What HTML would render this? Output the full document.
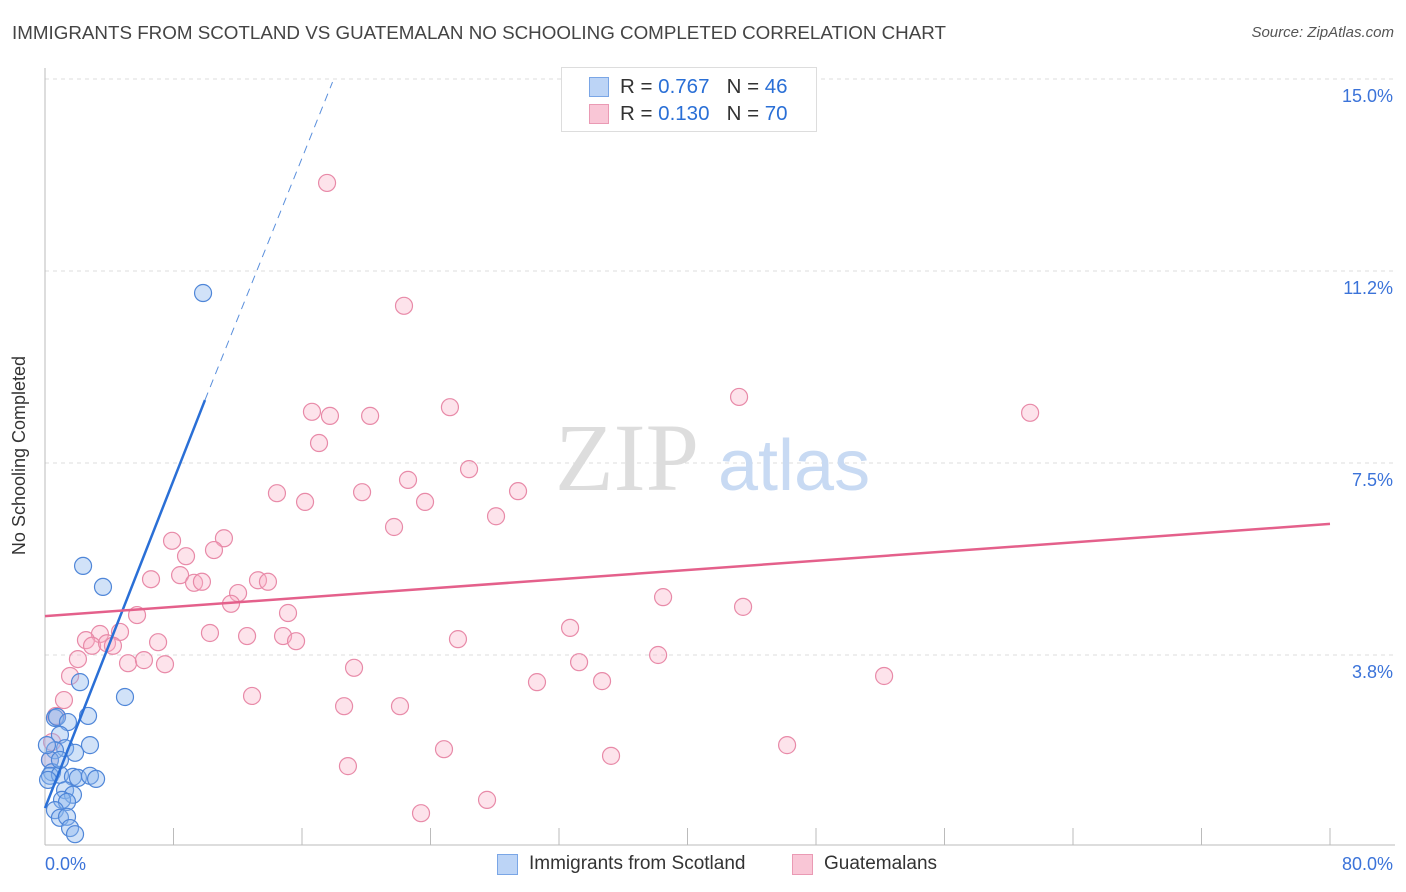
<!DOCTYPE html>
<html><head><meta charset="utf-8"><style>
body{margin:0;background:#fff;font-family:"Liberation Sans",sans-serif;}
#wrap{position:relative;width:1406px;height:892px;overflow:hidden;}
.t{position:absolute;white-space:nowrap;}
</style></head><body>
<div id="wrap">
<div class="t" style="left:12px;top:22px;font-size:18.8px;color:#444;">IMMIGRANTS FROM SCOTLAND VS GUATEMALAN NO SCHOOLING COMPLETED CORRELATION CHART</div>
<div class="t" style="right:12px;top:24px;font-size:15px;color:#555;font-style:italic;">Source: ZipAtlas.com</div>
<div class="t" style="left:-80px;top:445px;font-size:18px;color:#333;transform:rotate(-90deg);">No Schooling Completed</div>
<svg id="chart" width="1406" height="892" style="position:absolute;left:0;top:0"></svg>
</div>
<script>
const xTicks=[0,8,16,24,32,40,48,56,64,72,80];
const yTicks=[3.75,7.5,11.25,15];
const yTickLabels=["3.8%","7.5%","11.2%","15.0%"];
const xLabels=["0.0%","80.0%"];
const blueX=[9.84,2.37,3.61,4.98,2.18,0.62,0.75,2.68,1.43,0.93,2.80,1.25,1.87,0.62,0.31,0.44,0.31,0.93,1.74,2.05,2.80,3.18,1.25,1.74,1.06,1.37,0.62,0.93,1.37,1.56,1.87,0.19,0.12,0.93];
const blueY=[10.82,5.49,5.08,2.93,3.22,2.52,2.54,2.56,2.44,2.19,1.99,1.93,1.84,1.89,1.70,1.46,1.39,1.41,1.37,1.35,1.39,1.33,1.11,1.02,0.92,0.88,0.72,0.57,0.59,0.37,0.25,1.31,1.99,1.70];
const pinkX=[17.56,22.35,43.21,61.33,16.62,17.74,20.24,25.21,17.06,26.40,22.60,14.44,19.74,29.45,16.19,23.66,28.08,21.73,7.91,11.14,8.78,10.52,6.60,8.41,9.28,9.77,13.26,13.88,12.02,11.58,15.13,5.73,38.48,43.46,32.69,4.67,3.42,2.55,2.93,3.86,4.23,7.04,10.27,12.58,14.82,15.63,25.71,2.05,5.17,6.16,7.47,19.24,33.25,38.17,52.24,1.56,30.63,34.68,12.89,1.18,18.62,22.10,0.68,24.84,46.20,35.24,18.86,27.52,23.41,0.44,0.31];
const pinkY=[12.97,10.57,8.79,8.48,8.50,8.42,8.42,8.59,7.89,7.38,7.17,6.91,6.93,6.95,6.74,6.74,6.46,6.25,5.98,6.03,5.68,5.80,5.23,5.31,5.16,5.18,5.21,5.18,4.96,4.75,4.57,4.53,4.88,4.69,4.28,4.20,4.16,4.04,3.93,3.98,3.93,4.00,4.18,4.12,4.12,4.02,4.06,3.67,3.59,3.65,3.57,3.50,3.61,3.75,3.34,3.34,3.22,3.24,2.95,2.87,2.75,2.75,2.56,1.91,1.99,1.78,1.58,0.92,0.66,2.05,1.70];
const blueLine=[[0,0.76],[9.96,8.73],[17.9,14.94]];
const pinkLine=[[0,4.51],[80,6.31]];
const X=v=>45+v/80*1285, Y=v=>847-v/3.75*192;
const svg=document.getElementById('chart');const NS='http://www.w3.org/2000/svg';
function mk(tag,attrs,name){const e=document.createElementNS(NS,tag);for(const k in attrs)e.setAttribute(k,attrs[k]);


svg.appendChild(e);return e;}
yTicks.forEach((t,i)=>{mk('line',{x1:45,x2:1395,y1:Y(t),y2:Y(t),stroke:'#ddd','stroke-dasharray':'4,4'},'gridline');
const tx=mk('text',{x:1393,y:Y(t)+23,'text-anchor':'end','font-size':18,fill:'#3b73d9','font-family':'Liberation Sans'},'y-tick-label');tx.textContent=yTickLabels[i];});
mk('line',{x1:45,x2:45,y1:68,y2:845,stroke:'#bbb'},'y-axis');
mk('line',{x1:45,x2:1395,y1:845,y2:845,stroke:'#bbb'},'x-axis');
xTicks.forEach(t=>mk('line',{x1:X(t),x2:X(t),y1:828,y2:845,stroke:'#bbb'},'x-tick'));
const w1=mk('text',{x:555,y:490,'font-size':96,fill:'#ddd','font-family':'Liberation Serif'},'watermark-zip');w1.textContent='ZIP';
const w2=mk('text',{x:718,y:490,'font-size':72,fill:'#c8daf3','font-family':'Liberation Sans'},'watermark-atlas');w2.textContent='atlas';
pinkX.forEach((v,i)=>mk('circle',{cx:X(v),cy:Y(pinkY[i]),r:8.5,fill:'rgba(248,175,198,0.35)',stroke:'#e88aa8','stroke-width':1.2},'pink-point'));
blueX.forEach((v,i)=>mk('circle',{cx:X(v),cy:Y(blueY[i]),r:8.5,fill:'rgba(140,182,238,0.4)',stroke:'#4f86d8','stroke-width':1.2},'blue-point'));
mk('line',{x1:X(blueLine[0][0]),y1:Y(blueLine[0][1]),x2:X(blueLine[1][0]),y2:Y(blueLine[1][1]),stroke:'#2a6fd6','stroke-width':2.5},'blue-trend-line');
mk('line',{x1:X(blueLine[1][0]),y1:Y(blueLine[1][1]),x2:X(blueLine[2][0]),y2:Y(blueLine[2][1]),stroke:'#5a8fdc','stroke-width':1,'stroke-dasharray':'8,6'},'blue-trend-extension');
mk('line',{x1:X(pinkLine[0][0]),y1:Y(pinkLine[0][1]),x2:X(pinkLine[1][0]),y2:Y(pinkLine[1][1]),stroke:'#e4608b','stroke-width':2.5},'pink-trend-line');
const xl0=mk('text',{x:45,y:870,'font-size':18,fill:'#3b73d9','font-family':'Liberation Sans'},'x-tick-label');xl0.textContent=xLabels[0];
const xl1=mk('text',{x:1393,y:870,'text-anchor':'end','font-size':18,fill:'#3b73d9','font-family':'Liberation Sans'},'x-tick-label');xl1.textContent=xLabels[1];
</script>
<div style="position:absolute;left:561px;top:67px;width:254px;height:63px;border:1px solid #ddd;background:#fff;font-size:20.5px;color:#333;">
<div style="position:absolute;left:27px;top:9px;width:18px;height:18px;background:#bcd4f6;border:1px solid #7aa6e6;"></div>
<div class="t" style="left:58px;top:7px;">R = <span style="color:#2a6fd6">0.767</span> &nbsp; N = <span style="color:#2a6fd6">46</span></div>
<div style="position:absolute;left:27px;top:36px;width:18px;height:18px;background:#f9c6d6;border:1px solid #ea9ab4;"></div>
<div class="t" style="left:58px;top:34px;">R = <span style="color:#2a6fd6">0.130</span> &nbsp; N = <span style="color:#2a6fd6">70</span></div>
</div>
<div style="position:absolute;left:497px;top:852px;font-size:19px;color:#333;">
<div style="position:absolute;left:0;top:2px;width:19px;height:19px;background:#bcd4f6;border:1px solid #7aa6e6;"></div>
<div class="t" style="left:32px;top:1px;">Immigrants from Scotland</div>
<div style="position:absolute;left:295px;top:2px;width:19px;height:19px;background:#f9c6d6;border:1px solid #ea9ab4;"></div>
<div class="t" style="left:327px;top:1px;">Guatemalans</div>
</div>
</body></html>
